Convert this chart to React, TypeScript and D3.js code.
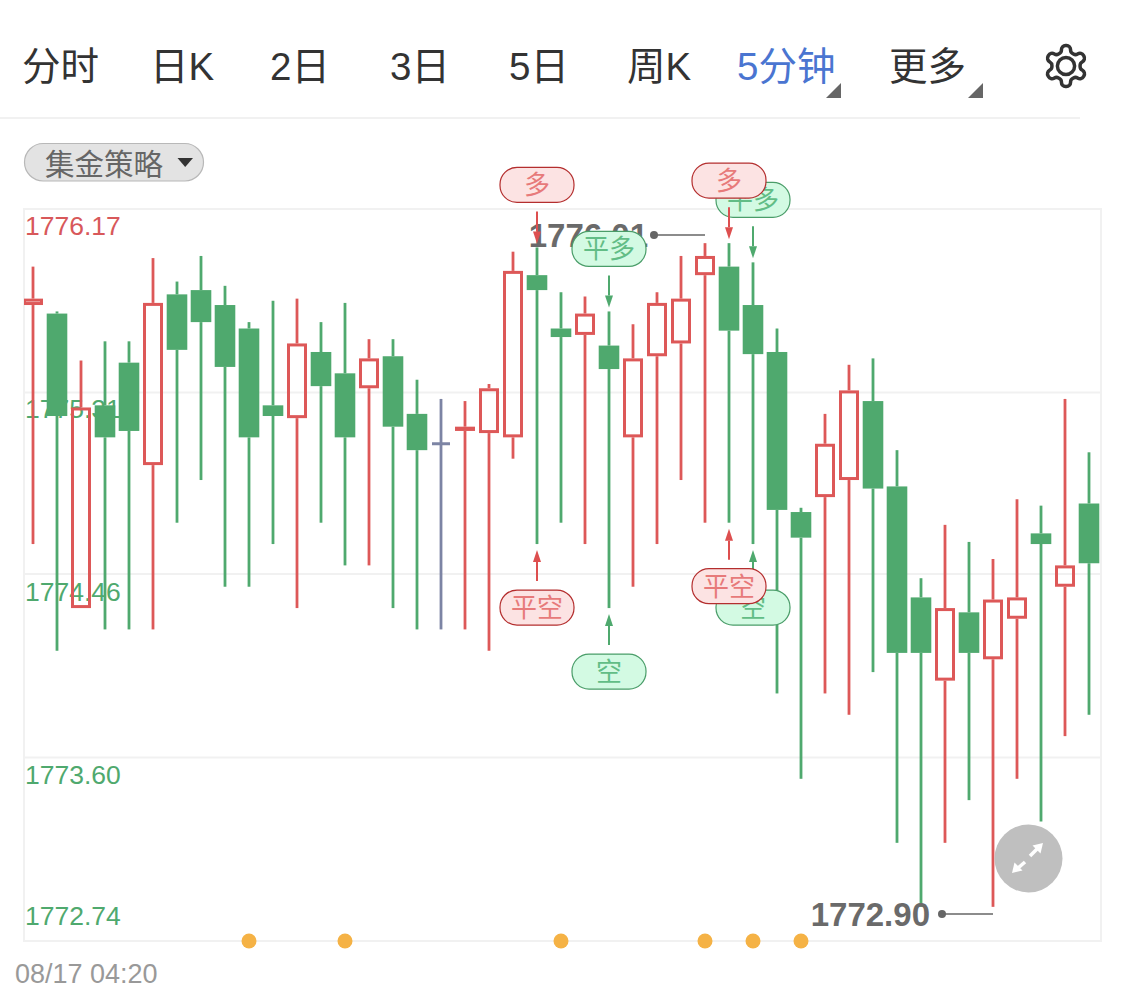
import React from "react";
import * as d3 from "d3";

const highs = [1775.90,1775.69,1775.46,1775.55,1775.55,1775.94,1775.83,1775.95,1775.81,1775.64,1775.74,1775.75,1775.64,1775.73,1775.56,1775.56,1775.37,1775.28,1775.27,1775.35,1775.97,1775.99,1775.78,1775.76,1775.69,1775.63,1775.78,1775.95,1776.01,1776.01,1775.92,1775.61,1774.77,1775.21,1775.44,1775.47,1775.04,1774.44,1774.69,1774.61,1774.53,1774.81,1774.78,1775.28,1775.03];
const lows = [1774.60,1774.10,1774.30,1774.20,1774.20,1774.20,1774.70,1774.90,1774.40,1774.40,1774.60,1774.30,1774.70,1774.50,1774.50,1774.30,1774.20,1774.20,1774.20,1774.10,1775.00,1774.60,1774.70,1774.60,1774.30,1774.40,1774.60,1774.90,1774.70,1774.70,1774.60,1773.90,1773.50,1773.90,1773.80,1774.00,1773.20,1772.90,1773.20,1773.40,1772.90,1773.50,1773.30,1773.70,1773.80];
const opens = [1775.72,1775.68,1774.30,1775.25,1775.45,1774.97,1775.77,1775.79,1775.72,1775.61,1775.25,1775.19,1775.50,1775.40,1775.33,1775.48,1775.21,1775.07,1775.13,1775.12,1775.10,1775.86,1775.61,1775.58,1775.53,1775.10,1775.48,1775.54,1775.86,1775.90,1775.72,1775.50,1774.75,1774.82,1774.90,1775.27,1774.87,1774.35,1773.96,1774.28,1774.06,1774.25,1774.65,1774.40,1774.79];
const closes = [1775.75,1775.20,1775.24,1775.10,1775.13,1775.73,1775.51,1775.64,1775.43,1775.10,1775.20,1775.54,1775.34,1775.10,1775.47,1775.15,1775.04,1775.07,1775.15,1775.33,1775.88,1775.79,1775.57,1775.68,1775.42,1775.47,1775.73,1775.75,1775.95,1775.60,1775.49,1774.76,1774.63,1775.07,1775.32,1774.86,1774.09,1774.09,1774.30,1774.09,1774.34,1774.35,1774.60,1774.50,1774.51];

const tabs = ["分时", "日K", "2日", "3日", "5日", "周K", "5分钟", "更多"];
const tabStarts = [22, 150, 270, 390, 509, 627, 737, 889];
const yTicks = [1776.17, 1775.31, 1774.46, 1773.60, 1772.74];
const strategyName = "集金策略";
const eventIndices = [9, 13, 22, 28, 30, 32];
const signalOrder = [
  { i: 21, text: "多", kind: "red", side: "top" },
  { i: 21, text: "平空", kind: "red", side: "bottom" },
  { i: 30, text: "平多", kind: "green", side: "top" },
  { i: 29, text: "多", kind: "red", side: "top" },
  { i: 24, text: "平多", kind: "green", side: "top" },
  { i: 24, text: "空", kind: "green", side: "bottom" },
  { i: 30, text: "空", kind: "green", side: "bottom" },
  { i: 29, text: "平空", kind: "red", side: "bottom" },
];
const maxLabel = { i: 28, value: 1776.01 };
const minLabel = { i: 40, value: 1772.9 };
const dateLabel = "08/17 04:20";

const GREEN = "#4fa96e";
const RED = "#dd5858";
const GRAY = "#7c84a4";
const GRID = "#f1f1f1";
const FONT = "'Liberation Sans','Noto Sans CJK SC',sans-serif";
const CJK = "'Noto Sans CJK SC','Liberation Sans',sans-serif";

const L = 24, R = 1101, T = 209, B = 941;
const y = d3.scaleLinear().domain([1772.74, 1776.17]).range([B, T]);
const x = d3.scalePoint<number>().domain(d3.range(highs.length)).range([33, 1089]);
const BODY = 20;
const WICK = 2.8;

const GEAR = "M12.22 2h-.44a2 2 0 0 0-2 2v.18a2 2 0 0 1-1 1.73l-.43.25a2 2 0 0 1-2 0l-.15-.08a2 2 0 0 0-2.73.73l-.22.38a2 2 0 0 0 .73 2.73l.15.1a2 2 0 0 1 1 1.72v.51a2 2 0 0 1-1 1.74l-.15.09a2 2 0 0 0-.73 2.73l.22.38a2 2 0 0 0 2.73.73l.15-.08a2 2 0 0 1 2 0l.43.25a2 2 0 0 1 1 1.73V20a2 2 0 0 0 2 2h.44a2 2 0 0 0 2-2v-.18a2 2 0 0 1 1-1.73l.43-.25a2 2 0 0 1 2 0l.15.08a2 2 0 0 0 2.73-.73l.22-.39a2 2 0 0 0-.73-2.73l-.15-.08a2 2 0 0 1-1-1.74v-.5a2 2 0 0 1 1-1.74l.15-.09a2 2 0 0 0 .73-2.73l-.22-.38a2 2 0 0 0-2.73-.73l-.15.08a2 2 0 0 1-2 0l-.43-.25a2 2 0 0 1-1-1.73V4a2 2 0 0 0-2-2z";

function Candle({ i }: { i: number }) {
  const cx = x(i) as number;
  const o = y(opens[i]), c = y(closes[i]), h = y(highs[i]), l = y(lows[i]);
  const top = Math.min(o, c), bot = Math.max(o, c);
  const flat = opens[i] === closes[i];
  const up = closes[i] > opens[i];
  if (flat) {
    return (
      <g stroke={GRAY} fill="none">
        <line x1={cx} x2={cx} y1={h} y2={l} strokeWidth={WICK} />
        <line x1={cx - 9} x2={cx + 9} y1={o} y2={o} strokeWidth={3} />
      </g>
    );
  }
  const col = up ? RED : GREEN;
  return (
    <g>
      <line x1={cx} x2={cx} y1={h} y2={top} stroke={col} strokeWidth={WICK} />
      <line x1={cx} x2={cx} y1={bot} y2={l} stroke={col} strokeWidth={WICK} />
      {up ? (
        <rect x={cx - BODY / 2 + 1.5} width={BODY - 3} y={top + 1.5} height={Math.max(bot - top - 3, 1)} fill="none" stroke={col} strokeWidth={3} />
      ) : (
        <rect x={cx - BODY / 2 - 0.3} width={BODY + 0.6} y={top} height={bot - top} fill={col} />
      )}
    </g>
  );
}

function Signal({ s }: { s: (typeof signalOrder)[number] }) {
  const cx = x(s.i) as number;
  const isRed = s.kind === "red";
  const line = isRed ? "#dd4f4f" : "#4fa96e";
  const fill = isRed ? "#fce3e3" : "#d3fae3";
  const stroke = isRed ? "#b42e2e" : "#4a9d69";
  const txt = isRed ? "#e77a7a" : "#62bd86";
  const top = s.side === "top";
  const tip = top ? y(highs[s.i]) - 4 : y(lows[s.i]) + 6;
  const far = top ? tip - 32 : tip + 31;
  const pillY = top ? far - 9 - 35 : far + 9;
  const base = top ? tip - 12 : tip + 12;
  return (
    <g>
      <line x1={cx} x2={cx} y1={far} y2={base} stroke={line} strokeWidth={2} />
      <path d={`M${cx},${tip}L${cx - 4},${base}L${cx + 4},${base}Z`} fill={line} />
      <rect x={cx - 37} y={pillY} width={74} height={35} rx={17} fill={fill} stroke={stroke} strokeWidth={1.2} />
      <text x={cx} y={pillY + 27} textAnchor="middle" fontFamily={CJK} fontSize={26} fill={txt}>{s.text}</text>
    </g>
  );
}

export default function App() {
  const idx = d3.range(highs.length);
  const maxX = x(maxLabel.i) as number;
  const minX = x(minLabel.i) as number;
  const maxY = y(maxLabel.value) - 8;
  const minY = y(minLabel.value) + 7;
  return (
    <svg width={1125} height={1002} style={{ position: "absolute", left: 0, top: 0, display: "block", background: "#fff" }}>
      <defs>
        <clipPath id="plot"><rect x={L} y={T - 60} width={R - L} height={B - T + 60} /></clipPath>
      </defs>
      {tabs.map((t, i) => (
        <text key={t} x={tabStarts[i]} y={80} fontFamily={FONT} fontSize={38.5} fill={t === "5分钟" ? "#4a75d1" : "#333"}>{t}</text>
      ))}
      <path d="M841,83L841,98L826,98Z" fill="#666" />
      <path d="M983,83L983,98L968,98Z" fill="#666" />
      <g transform="translate(1041.4,41.4) scale(2.05)" fill="none" stroke="#333" strokeWidth={1.7}>
        <path d={GEAR} />
        <circle cx={12} cy={12} r={4.2} />
      </g>
      <line x1={0} x2={1080} y1={118} y2={118} stroke={GRID} strokeWidth={2} />
      <rect x={24.5} y={143.5} width={179} height={37.5} rx={18.7} fill="#e3e3e3" stroke="#b8b8b8" strokeWidth={1.2} />
      <text x={45} y={175} fontFamily={CJK} fontSize={29.5} fill="#666">{strategyName}</text>
      <path d="M177.5,158L193,158L185.2,167Z" fill="#333" />

      <rect x={L} y={T} width={R - L} height={B - T} fill="none" stroke={GRID} strokeWidth={2} />
      {yTicks.slice(1, -1).map((v) => (
        <line key={v} x1={L} x2={R} y1={y(v)} y2={y(v)} stroke={GRID} strokeWidth={2} />
      ))}
      {yTicks.map((v, i) => {
        const base = [235, 418, 601, 784, 925][i];
        return (
          <text key={v} x={25} y={base} fontFamily={FONT} fontSize={26.5} fill={i === 0 ? "#d8585a" : "#4fa96e"}>{v.toFixed(2)}</text>
        );
      })}
      <g clipPath="url(#plot)">
        {idx.map((i) => <Candle key={i} i={i} />)}
      </g>

      <text x={648} y={maxY + 12} textAnchor="end" fontFamily={FONT} fontSize={33} fontWeight="bold" fill="#6a6a6a">{maxLabel.value.toFixed(2)}</text>
      <circle cx={654} cy={235} r={4} fill="#666" />
      <line x1={654} x2={maxX} y1={235} y2={235} stroke="#666" strokeWidth={1.5} />

      <text x={930} y={minY + 12} textAnchor="end" fontFamily={FONT} fontSize={33} fontWeight="bold" fill="#6a6a6a">{minLabel.value.toFixed(2)}</text>
      <circle cx={942} cy={914} r={4} fill="#666" />
      <line x1={942} x2={minX} y1={914} y2={914} stroke="#666" strokeWidth={1.5} />

      {signalOrder.map((s, k) => <Signal key={k} s={s} />)}

      {eventIndices.map((i) => (
        <circle key={i} cx={x(i) as number} cy={B} r={7.5} fill="#f5b245" />
      ))}

      <circle cx={1028.5} cy={858.5} r={34} fill="#bfbfbf" />
      <g stroke="#fff" strokeWidth={3.6} fill="#fff">
        <line x1={1030} y1={856} x2={1037} y2={849} />
        <path d="M1043,843L1032.5,845.5L1040.5,853.5Z" stroke="none" />
        <line x1={1025} y1={862} x2={1018} y2={868} />
        <path d="M1012,873L1022.5,870.5L1014.5,862.5Z" stroke="none" />
      </g>

      <text x={15} y={983} fontFamily={FONT} fontSize={27} fill="#999">{dateLabel}</text>
    </svg>
  );
}
